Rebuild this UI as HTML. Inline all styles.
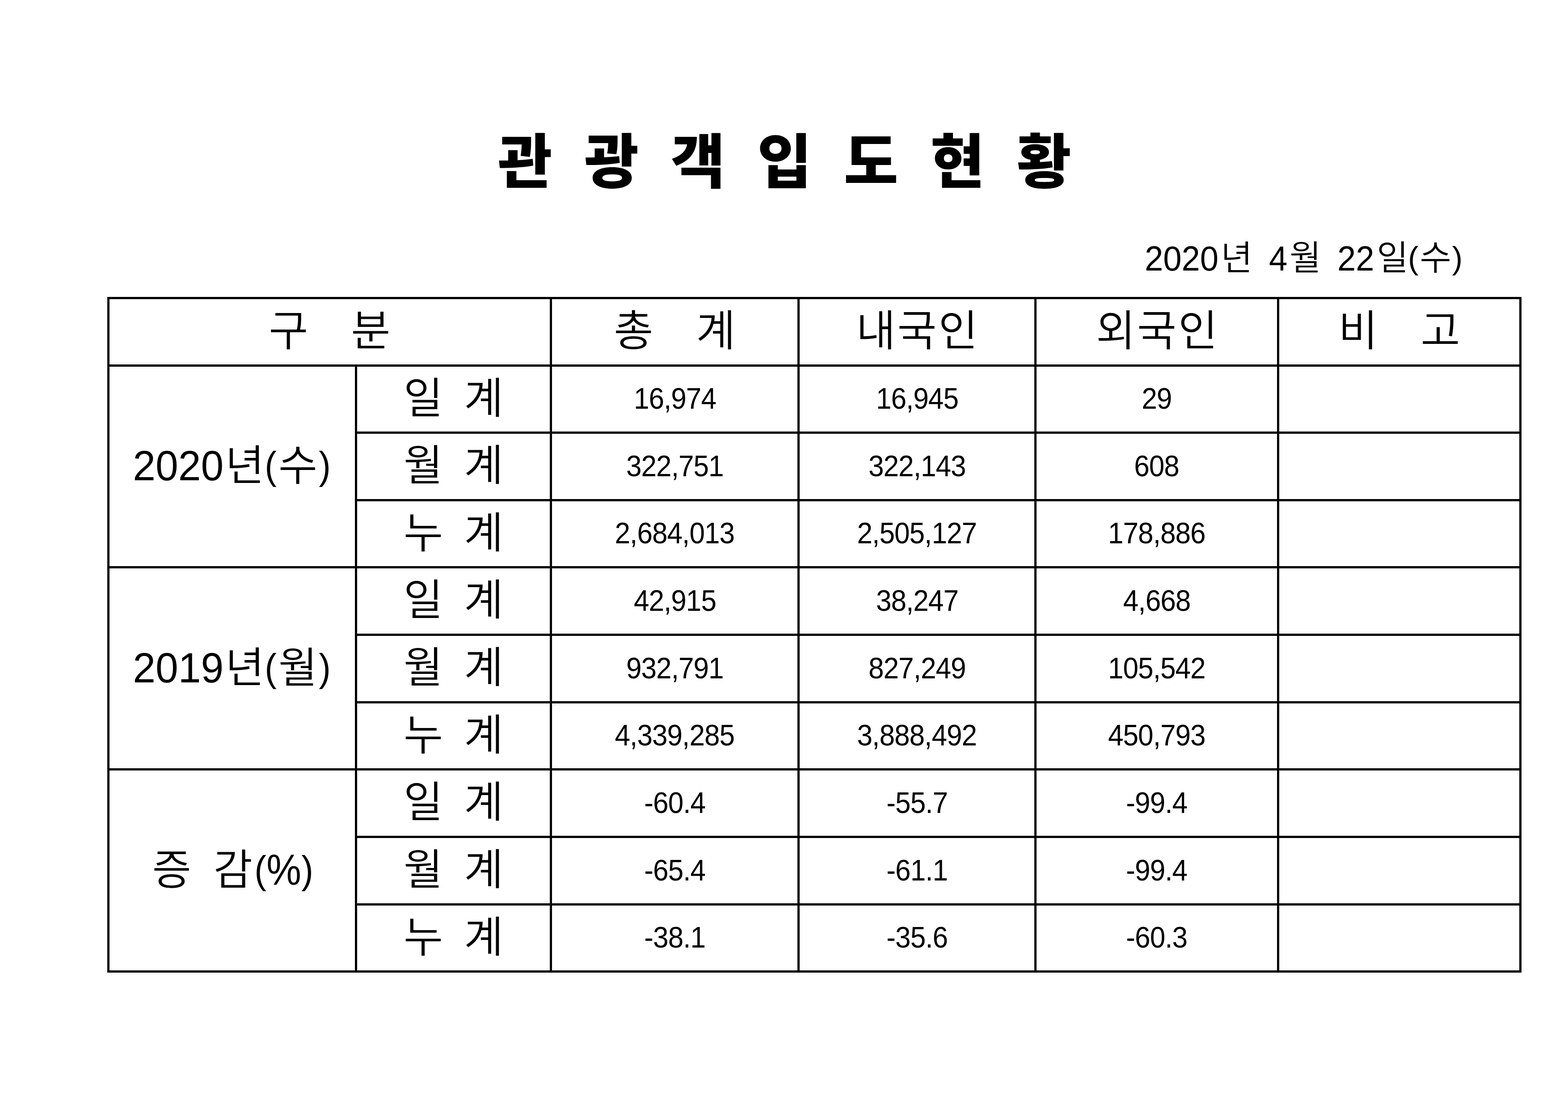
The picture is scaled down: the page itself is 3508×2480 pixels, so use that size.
<!DOCTYPE html>
<html lang="ko">
<head>
<meta charset="utf-8">
<title>관광객입도현황</title>
<style>
html,body{margin:0;padding:0;background:#fff;}
body{width:3508px;height:2480px;position:relative;overflow:hidden;color:#000;
  font-family:"Liberation Sans","Noto Sans CJK KR",sans-serif;}
.k{font-weight:350;}
h1{position:absolute;margin:0;left:1114px;top:264px;white-space:pre;
  font-weight:900;font-size:132px;line-height:200px;letter-spacing:17.7px;}
.date{position:absolute;left:2561px;top:518px;white-space:pre;
  font-size:77.5px;line-height:120px;word-spacing:-4px;}
.date .k{font-size:77px;margin-left:5px;margin-right:1.5px;position:relative;top:-1px;}
.date .d{display:inline-block;transform:scaleX(0.958);transform-origin:0 50%;}
.date .d4{margin-right:-7.24px;}
.date .d2{margin-right:-3.62px;}
.date .d1{margin-right:-1.81px;}
.date .p{font-size:71px;position:relative;top:-4px;margin:0 -2.4px;}
.date .p:last-child{margin-left:0;}
table{position:absolute;left:240px;top:664px;border-collapse:separate;border-spacing:0;table-layout:fixed;
  width:3164px;border-left:5px solid #000;border-top:5px solid #000;}
td,th{box-sizing:border-box;padding:0;margin:0;border-right:5px solid #000;border-bottom:5px solid #000;
  text-align:center;vertical-align:middle;white-space:pre;font-weight:normal;overflow:hidden;}
th.h,th.r{font-weight:350;font-size:96px;line-height:100px;letter-spacing:3.5px;padding-left:3.5px;}
th.h{word-spacing:62px;}
th.r{word-spacing:13.4px;}
th.h span,th.r span{position:relative;top:-2px;}
th.g{font-size:95px;line-height:100px;padding-right:2px;}
th.g span{position:relative;}
th.g .d{top:-0.5px;display:inline-block;transform:scaleX(0.96);margin:0 -4.2px;}
th.g .k{font-size:95px;word-spacing:23px;margin-left:4px;margin-right:0.7px;top:0.7px;}
th.g .p{font-size:87px;top:-3.2px;display:inline-block;transform:scaleX(0.92);margin:0 -1.2px;}
th.g .k:first-child{margin-right:4.7px;}
th.g .p+.k{margin-left:4px;margin-right:3.2px;}
th.g .q{font-size:97px;display:inline-block;transform:scaleX(0.9);margin:0 -4.3px;}
td.n{font-size:66px;line-height:100px;letter-spacing:-1px;}
td.n span{display:inline-block;position:relative;top:-1.5px;transform:scaleX(0.94);}
</style>
</head>
<body>
<h1>관 광 객 입 도 현 황</h1>
<div class="date"><span class="d d4">2020</span><span class="k">년</span>  <span class="d d1">4</span><span class="k">월</span>  <span class="d d2">22</span><span class="k">일</span><span class="p">(</span><span class="k">수</span><span class="p">)</span></div>
<table>
<colgroup><col style="width:554px"><col style="width:436px"><col style="width:554px"><col style="width:530px"><col style="width:543px"><col style="width:542px"></colgroup>
<thead>
<tr style="height:151px"><th class="h" colspan="2"><span>구 분</span></th><th class="h"><span>총 계</span></th><th class="h"><span>내국인</span></th><th class="h"><span>외국인</span></th><th class="h"><span>비 고</span></th></tr>
</thead>
<tbody>
<tr style="height:150px"><th class="g" rowspan="3"><span class="d">2020</span><span class="k">년</span><span class="p">(</span><span class="k">수</span><span class="p">)</span></th><th class="r"><span>일 계</span></th><td class="n"><span>16,974</span></td><td class="n"><span>16,945</span></td><td class="n"><span>29</span></td><td></td></tr>
<tr style="height:151px"><th class="r"><span>월 계</span></th><td class="n"><span>322,751</span></td><td class="n"><span>322,143</span></td><td class="n"><span>608</span></td><td></td></tr>
<tr style="height:150px"><th class="r"><span>누 계</span></th><td class="n"><span>2,684,013</span></td><td class="n"><span>2,505,127</span></td><td class="n"><span>178,886</span></td><td></td></tr>
<tr style="height:151px"><th class="g" rowspan="3"><span class="d">2019</span><span class="k">년</span><span class="p">(</span><span class="k">월</span><span class="p">)</span></th><th class="r"><span>일 계</span></th><td class="n"><span>42,915</span></td><td class="n"><span>38,247</span></td><td class="n"><span>4,668</span></td><td></td></tr>
<tr style="height:151px"><th class="r"><span>월 계</span></th><td class="n"><span>932,791</span></td><td class="n"><span>827,249</span></td><td class="n"><span>105,542</span></td><td></td></tr>
<tr style="height:150px"><th class="r"><span>누 계</span></th><td class="n"><span>4,339,285</span></td><td class="n"><span>3,888,492</span></td><td class="n"><span>450,793</span></td><td></td></tr>
<tr style="height:151px"><th class="g" rowspan="3"><span class="k">증 감</span><span class="p">(</span><span class="q">%</span><span class="p">)</span></th><th class="r"><span>일 계</span></th><td class="n"><span>-60.4</span></td><td class="n"><span>-55.7</span></td><td class="n"><span>-99.4</span></td><td></td></tr>
<tr style="height:151px"><th class="r"><span>월 계</span></th><td class="n"><span>-65.4</span></td><td class="n"><span>-61.1</span></td><td class="n"><span>-99.4</span></td><td></td></tr>
<tr style="height:150px"><th class="r"><span>누 계</span></th><td class="n"><span>-38.1</span></td><td class="n"><span>-35.6</span></td><td class="n"><span>-60.3</span></td><td></td></tr>
</tbody>
</table>
</body>
</html>
